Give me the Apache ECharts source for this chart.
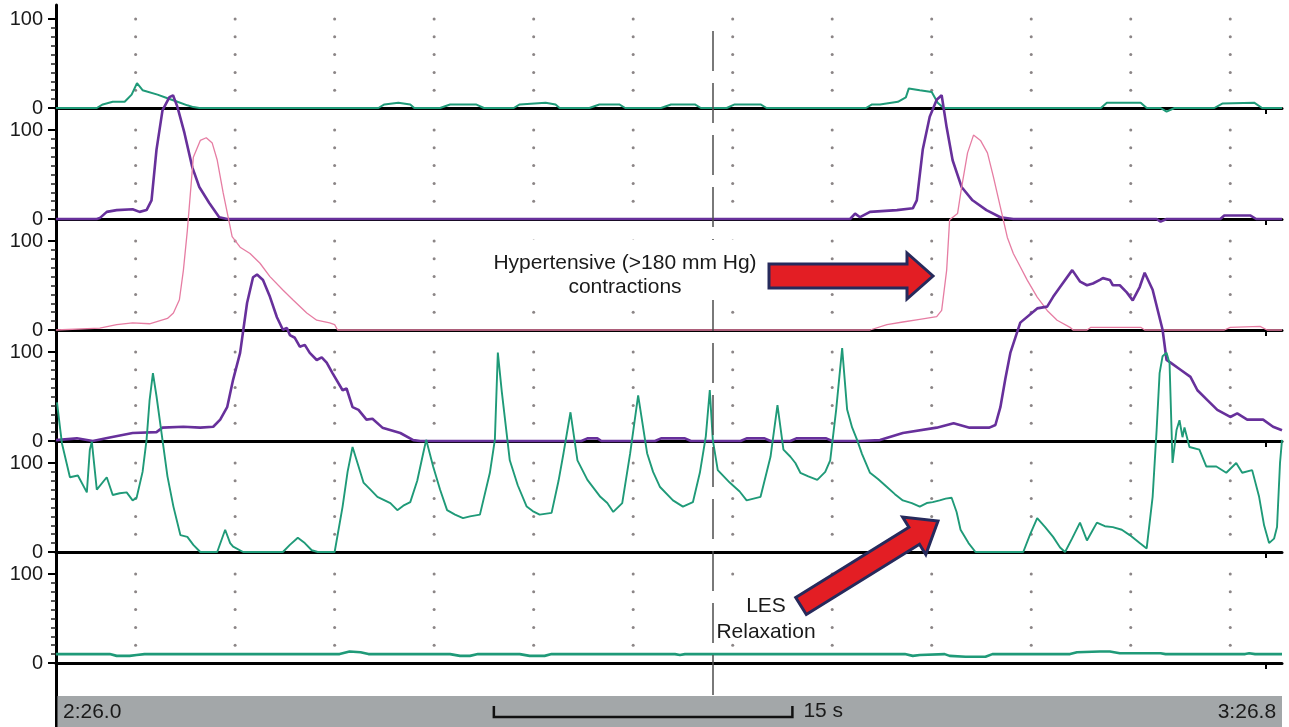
<!DOCTYPE html>
<html><head><meta charset="utf-8">
<script src="https://cdn.jsdelivr.net/npm/echarts@6/dist/echarts.min.js"></script>
<style>html,body{margin:0;padding:0;background:#fff}#c{width:1289px;height:727px}</style>
</head><body><div id="c"></div>
<script>
// ---- time in seconds after 2:26.0, pressure in mm Hg ----
const ch1 = [[0,0],[2.05,0],[2.35,4],[2.85,7],[3.45,7],[3.8,15],[4.07,28],[4.35,20],[5.1,15],[5.6,11],[6.1,7],[6.6,3],[6.9,1],[7.2,0],
 [16.2,0],[16.5,4],[17.2,6],[17.8,4],[18.0,0],[19.3,0],[19.8,4],[21.1,4],[21.5,0],[23.0,0],[23.3,4],[24.6,6],[25.1,4],[25.3,0],
 [26.8,0],[27.3,4],[28.3,4],[28.6,0],[30.4,0],[30.9,4],[32.1,4],[32.4,0],[33.7,0],[34.1,4],[35.4,4],[35.7,0],
 [40.7,0],[41.0,4],[41.4,4],[42.3,7],[42.7,12],[42.85,22],[43.4,20],[44.0,18],[44.3,6],[44.6,0],
 [52.5,0],[52.8,6],[54.5,6],[54.8,0],[55.5,0],[55.8,-4],[56.2,0],[58.2,0],[58.6,5],[60.2,6],[60.6,0],[61.6,0]];
const ch2 = [[0,0],[2.05,0],[2.2,1],[2.55,8],[3.05,10],[3.85,11],[4.2,8],[4.55,10],[4.8,21],[5.05,78],[5.35,122],[5.7,137],[5.88,139],
 [6.1,126],[6.45,97],[6.85,58],[7.2,36],[7.7,18],[8.2,2],[8.6,0],[39.9,0],[40.15,6],[40.4,2],[40.9,8],[42.25,10],[43.05,12],
 [43.25,21],[43.55,78],[43.9,115],[44.25,134],[44.5,139],[44.75,103],[45.05,66],[45.5,36],[46.05,21],[46.75,10],[47.45,2],[48.1,0],
 [55.3,0],[55.5,-3],[55.8,0],[58.5,0],[58.7,4],[60.0,4],[60.3,0],[61.6,0]];
const ch3 = [[0,0],[2.2,2],[3.05,6],[3.85,8],[4.7,7],[5.6,13],[5.9,19],[6.2,34],[6.4,67],[6.6,112],[6.9,194],[7.25,213],[7.55,216],
 [7.85,210],[8.1,191],[8.4,154],[8.85,105],[9.25,93],[9.75,86],[10.25,75],[10.75,60],[11.4,45],[11.9,34],[12.6,19],[13.1,11],
 [13.75,8],[14.0,6],[14.15,0],[40.9,0],[40.95,2],[41.75,6],[42.55,9],[43.4,12],[44.25,15],[44.5,22],[44.75,67],[44.9,124],
 [45.3,131],[45.5,160],[45.8,199],[46.1,219],[46.45,213],[46.8,199],[47.1,172],[47.45,138],[47.8,104],[48.1,86],[48.45,71],
 [48.8,56],[49.3,37],[49.8,22],[50.3,11],[50.95,3],[51.1,0],[51.8,0],[52.0,3],[54.5,3],[54.7,0],[58.7,0],[59.0,3],[60.5,4],[60.85,0],[61.6,0]];
const ch4 = [[0,1],[1.05,3],[1.85,0],[2.7,4],[3.85,9],[5.05,10],[5.35,15],[6.4,16],[7.25,15],[7.9,16],[8.25,24],[8.6,38],[8.9,69],
 [9.25,99],[9.6,155],[9.9,184],[10.1,187],[10.4,181],[10.75,162],[11.1,139],[11.4,125],[11.6,127],[11.75,119],[12.0,116],[12.25,106],
 [12.5,108],[12.75,99],[13.1,91],[13.35,94],[13.6,88],[13.9,76],[14.4,57],[14.6,59],[14.9,38],[15.2,35],[15.6,24],[15.9,25],
 [16.4,15],[17.3,9],[17.95,1],[18.3,0],[26.4,0],[26.7,3],[27.2,3],[27.4,0],
 [30.1,0],[30.4,3],[31.6,3],[31.9,0],[34.4,0],[34.7,3],[35.6,3],[35.9,0],[36.9,0],[37.2,3],[38.7,3],[39.0,0],[40.4,0],[41.4,1],
 [42.55,9],[44.25,15],[45.1,20],[45.9,15],[46.9,15],[47.2,18],[47.45,38],[47.7,70],[47.95,99],[48.45,133],[49.3,149],[49.8,151],
 [50.1,162],[50.45,173],[51.06,192],[51.46,179],[51.8,175],[52.1,177],[52.45,181],[52.6,183],[52.95,181],[53.1,175],[53.45,175],
 [53.8,167],[54.1,158],[54.45,173],[54.7,189],[55.1,170],[55.6,125],[55.8,91],[56.0,88],[56.5,80],[57.0,72],[57.35,57],[57.85,46],
 [58.35,35],[59.0,27],[59.35,31],[59.85,24],[60.65,24],[61.15,16],[61.6,12]];
const ch5 = [[0.05,168],[0.2,140],[0.3,122],[0.7,84],[1.1,86],[1.55,67],[1.7,115],[1.8,124],[2.05,70],[2.55,84],[2.85,64],[3.2,66],
 [3.55,67],[3.85,58],[4.05,61],[4.35,90],[4.55,126],[4.7,170],[4.87,201],[5.05,175],[5.35,126],[5.6,85],[5.9,51],[6.25,19],[6.6,17],
 [6.9,8],[7.25,0],[8.1,0],[8.5,25],[8.75,10],[8.9,6],[9.4,0],[11.4,0],[11.75,8],[12.15,16],[12.5,10],[12.85,2],[13.15,0],[14.0,0],
 [14.4,51],[14.65,90],[14.9,118],[15.45,78],[15.8,70],[16.15,62],[16.8,55],[17.15,47],[17.45,52],[17.8,56],[18.15,80],[18.45,111],
 [18.6,126],[18.95,96],[19.3,70],[19.65,47],[20.05,42],[20.45,38],[20.8,40],[21.3,42],[21.8,89],[22.05,126],[22.2,224],[22.4,180],
 [22.8,103],[23.2,75],[23.65,51],[23.95,46],[24.3,42],[24.9,44],[25.25,80],[25.5,111],[25.85,157],[26.2,103],[26.7,81],[27.35,62],
 [27.7,55],[28.0,45],[28.45,55],[28.85,111],[29.25,176],[29.7,111],[30.0,90],[30.35,73],[31.0,58],[31.5,51],[32.0,56],[32.35,89],
 [32.65,130],[32.85,182],[33.0,126],[33.25,92],[33.55,85],[33.85,78],[34.35,68],[34.7,58],[35.4,62],[35.9,107],[36.25,165],[36.55,115],
 [36.9,107],[37.15,100],[37.4,89],[37.8,85],[38.25,81],[38.65,90],[38.9,103],[39.2,160],[39.5,229],[39.75,160],[40.0,140],[40.25,126],
 [40.5,110],[40.9,89],[41.3,82],[41.75,73],[42.15,65],[42.55,58],[43.0,55],[43.4,51],[43.75,55],[44.05,56],[44.4,58],[44.7,60],
 [45.0,61],[45.25,45],[45.45,25],[45.85,10],[46.2,0],[48.6,0],[48.95,20],[49.3,38],[49.7,28],[50.1,17],[50.45,5],[50.7,0],[51.05,15],
 [51.45,33],[51.8,13],[52.1,25],[52.3,33],[52.7,29],[53.1,28],[53.55,25],[53.95,19],[54.45,10],[54.8,4],[55.1,62],[55.3,137],
 [55.45,201],[55.6,220],[55.8,224],[55.95,212],[56.1,100],[56.3,137],[56.45,148],[56.6,129],[56.7,140],[56.95,118],[57.45,115],
 [57.8,96],[58.3,96],[58.8,89],[59.3,100],[59.6,89],[60.1,92],[60.45,62],[60.7,30],[60.95,10],[61.2,15],[61.35,28],[61.5,100],[61.6,126]];
const ch6 = [[0,10],[2.7,10],[3.05,8],[3.7,8],[4.05,9],[4.45,10],[6.1,10],[6.2,9],[6.4,10],[14.25,10],[14.75,13],[15.3,12],[15.7,10],
 [19.8,10],[20.3,8],[20.8,8],[21.2,10],[23.3,10],[23.8,8],[24.55,8],[24.9,10],[31.1,10],[31.35,9],[31.6,10],[42.65,10],[43.05,8],
 [43.4,9],[44.65,10],[44.9,8],[45.7,7],[46.7,7],[47.05,10],[50.95,10],[51.3,12],[52.45,13],[52.95,13],[53.45,11],[55.5,11],
 [55.75,10],[59.75,10],[59.95,11],[60.25,10],[61.6,10]];

const gridTimes = [4,9,14,19,24,29,34,39,44,49,54,59];   // dotted 5-s grid lines
const gridLevels = [20,40,60,80,100];                     // dots on each grid line
const markerTime = 33.0;                                  // dashed event marker
const windowEnd = 60.8;                                   // 3:26.8
const scaleBarTimes = [22, 37];                           // 15 s scale bar
const startLabel = '2:26.0', endLabel = '3:26.8', scaleLabel = '15 s';
const note1 = ['Hypertensive (>180 mm Hg)', 'contractions'];
const note2 = ['LES', 'Relaxation'];

// ---- styling / layout ----
const GREEN = '#1f9a78', PURPLE = '#67309b', PINK = '#e67da3';
const channels = [
  {data: ch1, color: GREEN, width: 2},
  {data: ch2, color: PURPLE, width: 2.6},
  {data: ch3, color: PINK, width: 1.3},
  {data: ch4, color: PURPLE, width: 2.6},
  {data: ch5, color: GREEN, width: 1.9},
  {data: ch6, color: GREEN, width: 2.6}
];
const L = 56, R = 7, TOP0 = 19, STEP = 111, PH = 89, XMAX = 61.6;
const FONT = '"Liberation Sans", Arial, sans-serif';

const grids = [], xAxes = [], yAxes = [], series = [];
channels.forEach((c, i) => {
  grids.push({left: L, right: R, top: TOP0 + STEP * i, height: PH, containLabel: false, outerBoundsMode: 'none'});
  xAxes.push({type: 'value', gridIndex: i, min: 0, max: XMAX,
    axisLine: {show: true, lineStyle: {color: '#000', width: 3}},
    axisTick: {show: true, customValues: [windowEnd], length: 6, lineStyle: {color: '#000', width: 2}},
    axisLabel: {show: false}, splitLine: {show: false}});
  yAxes.push({type: 'value', gridIndex: i, min: 0, max: 100, interval: 100,
    axisLine: {show: false},
    axisTick: {show: true, length: 8, lineStyle: {color: '#000', width: 2}},
    minorTick: {show: true, splitNumber: 10, length: 5, lineStyle: {color: '#222', width: 1.5}},
    axisLabel: {color: '#1a1a1a', fontSize: 20, fontFamily: FONT, margin: 13},
    splitLine: {show: false}});
  series.push({type: 'scatter', xAxisIndex: i, yAxisIndex: i, silent: true, z: 1,
    symbolSize: 3, itemStyle: {color: '#6e6668'},
    data: gridTimes.flatMap(t => gridLevels.map(v => [t, v]))});
  series.push({type: 'line', xAxisIndex: i, yAxisIndex: i, data: c.data, showSymbol: false, symbol: 'none',
    clip: false, silent: true, z: 3, lineStyle: {color: c.color, width: c.width}});
});
// overlay grid: continuous left axis and dashed event marker
grids.push({left: L, right: R, top: 5, bottom: 0, containLabel: false, outerBoundsMode: 'none'});
xAxes.push({type: 'value', gridIndex: 6, min: 0, max: XMAX, show: false});
yAxes.push({type: 'value', gridIndex: 6, min: 0, max: 1,
  axisLine: {show: true, onZero: false, lineStyle: {color: '#000', width: 3}},
  axisTick: {show: false}, axisLabel: {show: false}, splitLine: {show: false}});
const OV_H = 722;
series.push({type: 'line', xAxisIndex: 6, yAxisIndex: 6, data: [[markerTime, 0.5]], showSymbol: false, symbol: 'none',
  lineStyle: {opacity: 0}, z: 8, silent: true,
  markLine: {symbol: 'none', silent: true, label: {show: false}, animation: false,
    lineStyle: {color: '#4d4d4d', width: 1.5, type: [40, 12]},
    data: [[{coord: [markerTime, (727 - 695) / OV_H]}, {coord: [markerTime, (727 - 20) / OV_H]}]]}});

const chart = echarts.init(document.getElementById('c'), null, {renderer: 'canvas'});
chart.setOption({animation: false, backgroundColor: '#fff', grid: grids, xAxis: xAxes, yAxis: yAxes, series: series});

const px = t => chart.convertToPixel({xAxisIndex: 6, yAxisIndex: 6}, [t, 0])[0];
const xs0 = px(scaleBarTimes[0]), xs1 = px(scaleBarTimes[1]);
const txt = (text, x, y, align, size) => ({type: 'text', x: x, y: y, z: 7,
  style: {text: text, font: size + 'px ' + FONT, fill: '#1a1a1a', textAlign: align, textVerticalAlign: 'middle'}});
const elements = [
  // bottom time bar
  {type: 'rect', z: 1, shape: {x: px(0) + 1.5, y: 696, width: px(XMAX) - px(0) - 1.5, height: 31}, style: {fill: '#a3a7a9'}},
  txt(startLabel, px(0) + 7, 712, 'left', 21),
  txt(endLabel, px(windowEnd) + 10, 712, 'right', 21),
  {type: 'polyline', z: 7, shape: {points: [[xs0, 706], [xs0, 717], [xs1, 717], [xs1, 706]]},
   style: {stroke: '#111', lineWidth: 2.5, fill: null}},
  txt(scaleLabel, xs1 + 11, 711, 'left', 21),
  // annotation boxes
  {type: 'rect', z: 5, shape: {x: 482, y: 240, width: 284, height: 60}, style: {fill: '#fff'}},
  txt(note1[0], 625, 263, 'center', 21),
  txt(note1[1], 625, 287, 'center', 21),
  {type: 'rect', z: 5, shape: {x: 716, y: 586, width: 104, height: 56}, style: {fill: '#fff'}},
  txt(note2[0], 766, 606, 'center', 21),
  txt(note2[1], 766, 632, 'center', 21),
  // arrows
  {type: 'polygon', z: 9, shape: {points: [[769,264],[907,264],[907,253],[933,276],[907,299],[907,288],[769,288]]},
   style: {fill: '#e31e24', stroke: '#262a5c', lineWidth: 3, lineJoin: 'miter'}},
  {type: 'polygon', z: 9, shape: {points: [[795.7,597.5],[908.9,527.3],[902.6,517.1],[938,521],[925.8,554.5],[919.5,544.3],[806.3,614.5]]},
   style: {fill: '#e31e24', stroke: '#262a5c', lineWidth: 3, lineJoin: 'miter'}}
];
chart.setOption({graphic: {elements: elements}});
</script>
</body></html>
